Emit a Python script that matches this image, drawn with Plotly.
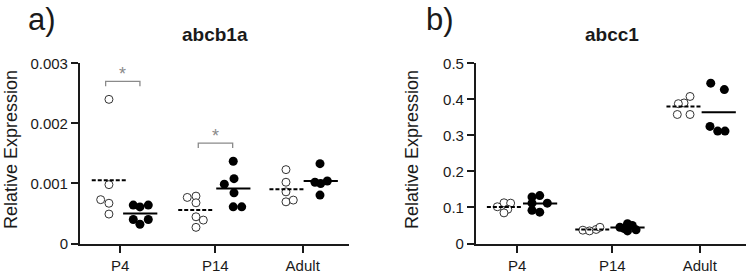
import plotly.graph_objects as go

FONT = "Liberation Sans, Arial, sans-serif"
INK = "#1a1a1a"
GRAY = "#8a8a8a"

groups = ["P4", "P14", "Adult"]
group_pos = [0, 1, 1.92]

# ---- panel a: abcb1a ----
a_open_vals = [
    [0.0024, 0.00098, 0.00073, 0.00067, 0.00049],
    [0.000767, 0.000789, 0.000678, 0.000445, 0.00039, 0.000269],
    [0.00123, 0.00102, 0.00086, 0.000694, 0.000723],
]
a_open_jit = [
    [-0.119, -0.119, -0.206, -0.119, -0.119],
    [-0.295, -0.203, -0.203, -0.203, -0.126, -0.203],
    [-0.176, -0.176, -0.176, -0.176, -0.099],
]
a_fill_vals = [
    [0.00064, 0.00061, 0.00064, 0.0004, 0.0004, 0.00032],
    [0.00137, 0.000988, 0.00108, 0.000844, 0.000611, 0.000611],
    [0.00133, 0.00102, 0.001, 0.00104, 0.000806],
]
a_fill_jit = [
    [0.137, 0.207, 0.295, 0.137, 0.295, 0.207],
    [0.189, 0.095, 0.197, 0.197, 0.189, 0.278],
    [0.182, 0.129, 0.189, 0.259, 0.182],
]
a_open_center = [-0.12, -0.21, -0.17]
a_fill_center = [0.21, 0.19, 0.19]

# ---- panel b: abcc1 ----
b_open_vals = [
    [0.113, 0.112, 0.102, 0.095, 0.085],
    [0.037, 0.035, 0.039, 0.045],
    [0.408, 0.39, 0.388, 0.358, 0.358],
]
b_open_jit = [
    [-0.14, -0.07, -0.21, -0.10, -0.14],
    [-0.31, -0.24, -0.17, -0.13],
    [-0.102, -0.165, -0.225, -0.236, -0.102],
]
b_fill_vals = [
    [0.129, 0.133, 0.112, 0.112, 0.092, 0.087],
    [0.055, 0.05, 0.042, 0.038, 0.035, 0.045],
    [0.445, 0.427, 0.325, 0.312, 0.312],
]
b_fill_jit = [
    [0.155, 0.236, 0.155, 0.316, 0.155, 0.236],
    [0.16, 0.21, 0.12, 0.25, 0.16, 0.08],
    [0.116, 0.259, 0.108, 0.189, 0.266],
]
b_open_center = [-0.14, -0.21, -0.17]
b_fill_center = [0.24, 0.16, 0.20]

a_yticks = [0, 0.001, 0.002, 0.003]
a_yticktext = ["0", "0.001", "0.002", "0.003"]
b_yticks = [0, 0.1, 0.2, 0.3, 0.4, 0.5]
b_yticktext = ["0", "0.1", "0.2", "0.3", "0.4", "0.5"]

# significance brackets (panel a)
sig_groups = [0, 1]
sig_left = [-0.154, -0.179]
sig_right = [0.207, 0.183]
sig_top = [0.0027, 0.00167]
sig_drop = [0.00008, 0.00008]

HALF = 0.18

fig = go.Figure()


def add_panel(xa, ya, open_vals, open_jit, fill_vals, fill_jit, oc, fc):
    for gi, gp in enumerate(group_pos):
        ov = open_vals[gi]
        fv = fill_vals[gi]
        fig.add_trace(go.Scatter(
            x=[gp + j for j in open_jit[gi]], y=ov, mode="markers",
            marker=dict(size=8, color="white", line=dict(color="#333", width=1)),
            xaxis=xa, yaxis=ya, showlegend=False, hoverinfo="skip"))
        fig.add_trace(go.Scatter(
            x=[gp + j for j in fill_jit[gi]], y=fv, mode="markers",
            marker=dict(size=9, color="black", line=dict(width=0)),
            xaxis=xa, yaxis=ya, showlegend=False, hoverinfo="skip"))
        om = sum(ov) / len(ov)
        fm = sum(fv) / len(fv)
        fig.add_trace(go.Scatter(
            x=[gp + oc[gi] - HALF, gp + oc[gi] + HALF], y=[om, om], mode="lines",
            line=dict(color="black", width=2, dash="4px,2px"),
            xaxis=xa, yaxis=ya, showlegend=False, hoverinfo="skip"))
        fig.add_trace(go.Scatter(
            x=[gp + fc[gi] - HALF, gp + fc[gi] + HALF], y=[fm, fm], mode="lines",
            line=dict(color="black", width=2),
            xaxis=xa, yaxis=ya, showlegend=False, hoverinfo="skip"))


add_panel("x", "y", a_open_vals, a_open_jit, a_fill_vals, a_fill_jit, a_open_center, a_fill_center)
add_panel("x2", "y2", b_open_vals, b_open_jit, b_fill_vals, b_fill_jit, b_open_center, b_fill_center)

for k, gi in enumerate(sig_groups):
    gp = group_pos[gi]
    l, r, t, d = gp + sig_left[k], gp + sig_right[k], sig_top[k], sig_drop[k]
    fig.add_trace(go.Scatter(
        x=[l, l, r, r], y=[t - d, t, t, t - d], mode="lines",
        line=dict(color=GRAY, width=1.3), xaxis="x", yaxis="y",
        showlegend=False, hoverinfo="skip"))
    fig.add_annotation(x=(l + r) / 2, y=t, xref="x", yref="y", text="*",
                       showarrow=False, xanchor="center", yanchor="middle", yshift=7,
                       font=dict(family=FONT, size=18, color=GRAY))

xcommon = dict(showline=True, linecolor=INK, linewidth=2, ticks="outside",
               ticklen=7, tickwidth=2, tickcolor=INK, showgrid=False, zeroline=False,
               tickvals=group_pos, ticktext=groups, automargin=False,
               tickfont=dict(family=FONT, size=15, color=INK), fixedrange=True)
ycommon = dict(showline=True, linecolor=INK, linewidth=2, ticks="outside",
               ticklen=7, tickwidth=2, tickcolor=INK, showgrid=False, zeroline=False,
               automargin=False,
               tickfont=dict(family=FONT, size=15, color=INK), fixedrange=True)

YDOM = [0.1145, 0.7698]

fig.update_layout(
    template="none",
    width=746, height=275, margin=dict(l=0, r=0, t=0, b=0, pad=0),
    paper_bgcolor="white", plot_bgcolor="white",
    xaxis=dict(domain=[0.1072, 0.4678], range=[-0.424, 2.407], anchor="y", **xcommon),
    yaxis=dict(domain=YDOM, range=[0, 0.003], anchor="x", tickvals=a_yticks,
               ticktext=a_yticktext, **ycommon),
    xaxis2=dict(domain=[0.638, 1.0], range=[-0.435, 2.407], anchor="y2", **xcommon),
    yaxis2=dict(domain=YDOM, range=[0, 0.5], anchor="x2", tickvals=b_yticks,
                ticktext=b_yticktext, **ycommon),
)


def label(xpx, ypx, text, size, angle=0, yanchor="middle"):
    fig.add_annotation(x=xpx / 746, y=(275 - ypx) / 275, xref="paper", yref="paper",
                       text=text, textangle=angle, showarrow=False,
                       xanchor="center", yanchor=yanchor,
                       font=dict(family=FONT, size=size, color=INK))


label(11, 150, "Relative Expression", 18, -90)
label(412, 150, "Relative Expression", 18, -90)
label(215, 34, "<b>abcb1a</b>", 19)
label(612, 34, "<b>abcc1</b>", 19)
label(42, 0, "a)", 31, yanchor="top")
label(440, 0, "b)", 31, yanchor="top")

fig.write_html("out.html", config={"displayModeBar": False, "staticPlot": True},
               post_script="document.body.style.margin='0px';document.body.style.overflow='hidden';")
